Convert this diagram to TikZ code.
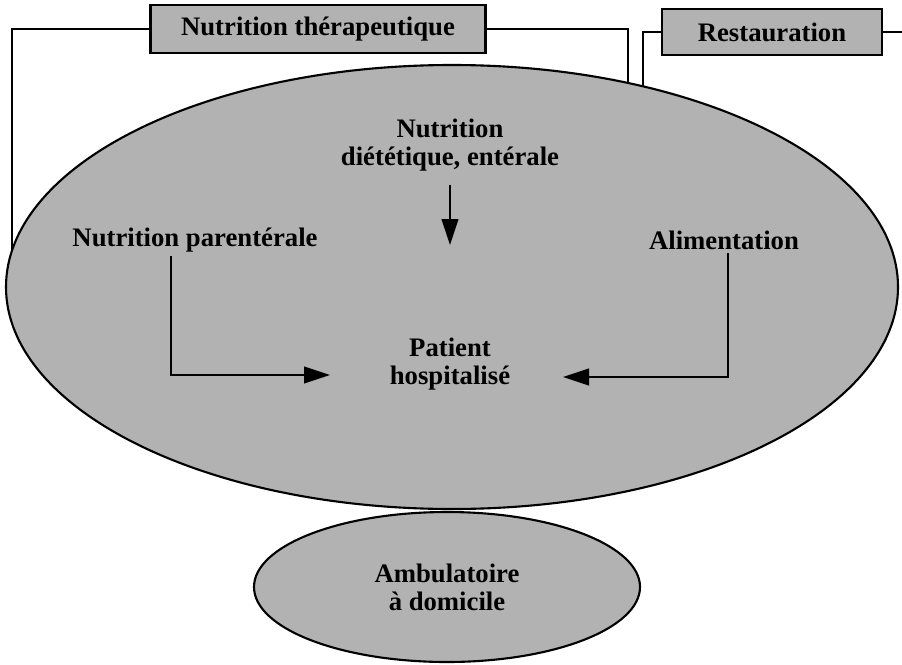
\documentclass[tikz,border=0pt]{standalone}
\usepackage{fontspec}
\setmainfont{Liberation Serif}
\usepackage{xcolor}
\usetikzlibrary{arrows.meta,positioning,backgrounds,calc,shapes.geometric}

\colorlet{screen}{black!30}

\begin{document}
\begin{tikzpicture}[
    font=\fontsize{19}{20}\selectfont\bfseries,
    >={Triangle[length=6.5mm,width=4.2mm]},
    line width=1.3pt,
    zone/.style={draw, ellipse, fill=screen, line width=1.5pt, align=center,
                 inner sep=0pt},
    service/.style={draw, fill=screen, align=center, minimum height=1.2cm,
                    line width=1.5pt},
    link/.style={line width=1.3pt},
    lbl/.style={align=center, inner sep=2pt},
]
\useasboundingbox (0,0) rectangle (22.55,-16.6);

% --- Settings (ellipses) ---
\node[zone, minimum width=22.3cm, minimum height=11.1cm] (hosp) at (11.3,-7.175) {};
\node[zone, minimum width=9.65cm, minimum height=3.75cm] (amb) at (11.175,-14.675)
     {Ambulatoire\\à domicile};

% --- Services (top boxes) ---
\node[service, minimum width=8.375cm] (therap) at (7.95,-0.725) {Nutrition thérapeutique};
\node[service, minimum width=5.5cm, minimum height=1.15cm] (resto) at (19.3,-0.8) {Restauration};

% --- Inside the hospital ---
\node[lbl] (nutri)   at (11.25,-3.625) {Nutrition\\diététique, entérale};
\node[lbl] (parent)  at (4.875,-6.0)   {Nutrition parentérale};
\node[lbl] (alim)    at (18.1,-6.0)    {Alimentation};
\node[lbl] (patient) at (11.25,-9.1)   {Patient\\hospitalisé};

% arrow tips and the open end at the page edge
\coordinate (ntip)  at (11.25,-6.125);
\coordinate (ptip)  at (8.25,-9.375);
\coordinate (atip)  at (14.075,-9.425);
\coordinate (redge) at (22.55,-0.8);

\draw[->, shorten <=2.5mm] (nutri.south) -- (ntip);
\draw[->] ([xshift=-6mm]parent.south) |- (ptip);
\draw[->] ([xshift=1mm]alim.south) |- (atip);

% Service links run into the hospital (hidden under its fill)
\begin{scope}[on background layer]
  \draw[link] (therap.west) -| ([xshift=1.75mm]hosp.west);
  \draw[link] (therap.east) -| ([xshift=44mm]hosp.center);
  \draw[link] (resto.west)  -| ([xshift=47.75mm]hosp.center);
\end{scope}
\draw[link] (resto.east) -- (redge);

\end{tikzpicture}
\end{document}
